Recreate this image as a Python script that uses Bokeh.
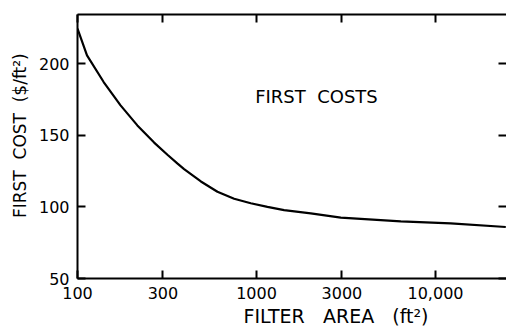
from bokeh.plotting import figure
from bokeh.models import FixedTicker, LogAxis, LinearAxis, Label, Title
from bokeh.embed import file_html
from bokeh.resources import INLINE

# Filter first cost ($/ft^2) versus filter area (ft^2)
area = [100, 113, 140, 174, 216, 268, 318, 361, 394, 489, 605, 750, 929,
        1151, 1426, 2010, 2958, 6400, 12160, 24700]
cost = [224.6, 205.9, 187.3, 171, 157, 145, 136.5, 130.5, 126.5, 117.8, 110.6, 105.7, 102.6,
        100.1, 97.8, 95.5, 92.6, 89.9, 88.5, 86]

x_ticks = [100, 300, 1000, 3000, 10000]
x_tick_labels = ["100", "300", "1000", "3000", "10,000"]
y_ticks = [50, 100, 150, 200]
y_tick_labels = ["50", "100", "150", "200"]

FONT = "DejaVu Sans"
NB = "\u00a0"  # non-breaking space keeps wide word gaps in SVG text

p = figure(width=506, height=328, x_axis_type="log",
           x_range=(100, 10 ** (2 + 429 / 179)), y_range=(50, 234.5),
           output_backend="svg", toolbar_location=None,
           min_border_left=77, min_border_right=0,
           min_border_top=14, min_border_bottom=0)
p.grid.visible = False
p.outline_line_color = None
p.background_fill_color = "white"
p.border_fill_color = "white"

p.line(area, cost, line_color="black", line_width=2.2)


def style_axis(ax, ticks, labels, show_labels=True):
    ax.ticker = FixedTicker(ticks=ticks, minor_ticks=[])
    if show_labels:
        ax.major_label_overrides = {t: s for t, s in zip(ticks, labels)}
    else:
        ax.major_label_overrides = {t: "" for t in ticks}
    ax.major_tick_in = 8
    ax.major_tick_out = 0
    ax.minor_tick_in = 0
    ax.minor_tick_out = 0
    ax.major_tick_line_width = 2
    ax.major_tick_line_color = "black"
    ax.axis_line_width = 2
    ax.axis_line_color = "black"
    ax.major_label_text_font = FONT
    ax.major_label_text_font_size = "16px"
    ax.major_label_text_color = "black"
    ax.major_label_standoff = 8 if show_labels else 0


xa = p.xaxis[0]
style_axis(xa, x_ticks, x_tick_labels)
ya = p.yaxis[0]
style_axis(ya, y_ticks, y_tick_labels)
ya.axis_label = NB * 4 + "FIRST" + NB + " COST" + NB + " ($/ft²)"
ya.axis_label_text_font = FONT
ya.axis_label_text_font_size = "17px"
ya.axis_label_text_font_style = "normal"
ya.axis_label_text_color = "black"
ya.axis_label_standoff = 6

top = LogAxis()
style_axis(top, x_ticks, x_tick_labels, show_labels=False)
p.add_layout(top, "above")
right = LinearAxis()
style_axis(right, y_ticks, y_tick_labels, show_labels=False)
right.axis_line_color = None
p.add_layout(right, "right")

p.add_layout(Label(x=2163, y=177.5, text="FIRST" + NB + " COSTS", text_font=FONT,
                   text_font_size="18px", text_align="center",
                   text_baseline="middle", text_color="black"))

p.add_layout(Title(text="FILTER" + NB * 2 + " AREA" + NB * 2 + " (ft²)", text_font=FONT,
                   text_font_size="19px", text_font_style="normal",
                   text_color="black", align="left", offset=166,
                   standoff=3), "below")

open("out.html", "w").write(file_html(p, INLINE))
